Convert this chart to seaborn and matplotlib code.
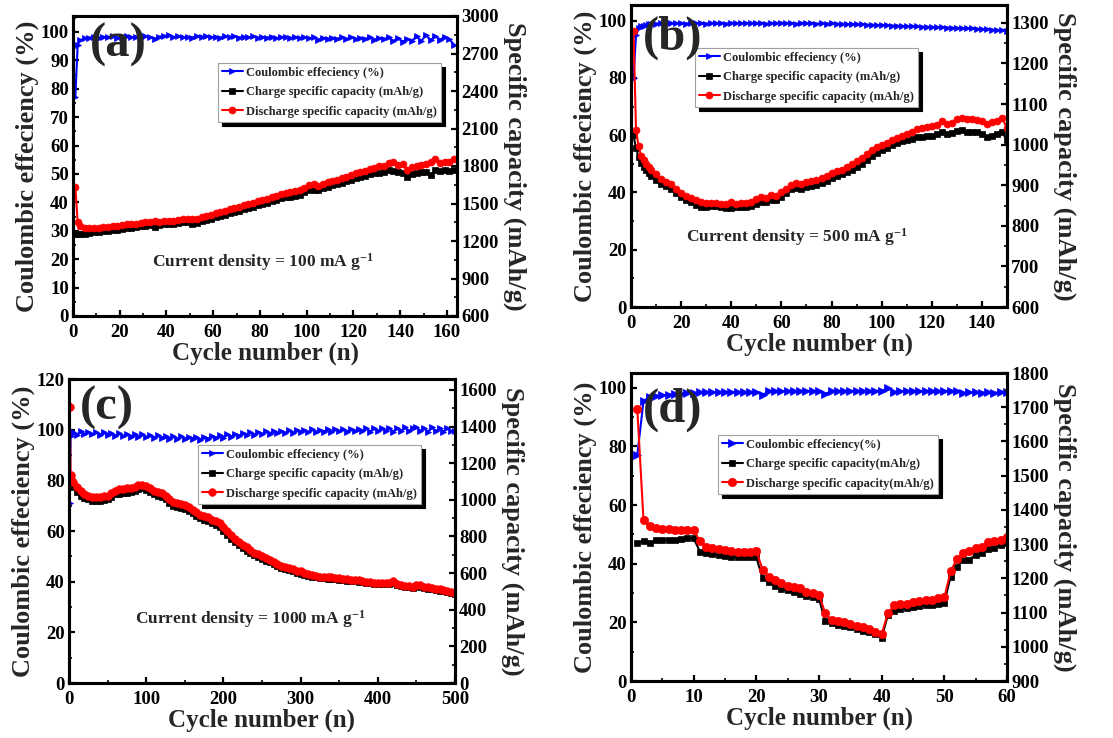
import matplotlib
matplotlib.use("Agg")
import matplotlib.pyplot as plt
from matplotlib.ticker import MultipleLocator
import seaborn as sns

# ---------------- data ----------------
# panel (a) 100 mA/g
cyc_a = [1, 2] + list(range(3, 165, 2))
ce_a = [77, 95.5,
        97, 97.8, 98, 98.2, 97.9, 98.3, 98.1, 98.4, 98, 98.2,
        98.5, 98.1, 98.3, 98, 98.4, 98.2, 97.6, 98.3, 98.6, 98.8,
        98.2, 98.4, 98.1, 98.3, 98, 98.5, 98.2, 98.4, 98.1, 98.3,
        98, 98.4, 98.2, 98.5, 98, 98.3, 98.1, 98.4, 97.9, 98.2,
        98, 98.3, 97.8, 98.1, 98.3, 97.9, 98.2, 97.8, 98.1, 97.7,
        98.2, 97.3, 97.9, 97.6, 98, 97.5, 98.2, 97.6, 98.1, 97.4,
        98, 97.5, 98.3, 97.3, 97.9, 97.5, 98.1, 96.8, 97.8, 96.5,
        97.6, 96.9, 98.4, 96.8, 98.9, 97, 98.6, 97.2, 98.3, 97.5,
        95.5]
chg_a = [1260, 1260,
         1260, 1260, 1264, 1269, 1273, 1278, 1283, 1287, 1292, 1296,
         1301, 1305, 1310, 1319, 1323, 1328, 1310, 1328, 1333, 1335,
         1339, 1346, 1351, 1355, 1337, 1346, 1360, 1371, 1380, 1389,
         1399, 1410, 1421, 1433, 1444, 1455, 1465, 1476, 1485, 1496,
         1505, 1519, 1530, 1542, 1551, 1556, 1562, 1569, 1590, 1612,
         1606, 1608, 1624, 1635, 1647, 1653, 1667, 1681, 1692, 1706,
         1715, 1724, 1733, 1742, 1744, 1749, 1767, 1760, 1751, 1747,
         1710, 1733, 1744, 1751, 1756, 1728, 1767, 1760, 1765, 1760,
         1772]
dis_a = [1635, 1351,
         1317, 1305, 1301, 1301, 1305, 1310, 1314, 1319, 1323, 1328,
         1333, 1335, 1339, 1346, 1351, 1355, 1364, 1355, 1358, 1360,
         1362, 1369, 1374, 1380, 1374, 1380, 1392, 1403, 1412, 1421,
         1430, 1442, 1453, 1465, 1476, 1487, 1496, 1508, 1517, 1528,
         1537, 1551, 1562, 1574, 1583, 1590, 1601, 1606, 1624, 1647,
         1653, 1642, 1658, 1669, 1681, 1687, 1701, 1715, 1728, 1742,
         1749, 1760, 1774, 1788, 1797, 1801, 1824, 1829, 1806, 1817,
         1767, 1794, 1799, 1806, 1815, 1829, 1856, 1824, 1833, 1829,
         1858]

# panel (b) 500 mA/g
cyc_b = [1, 2, 3, 4, 5, 6, 7, 8] + list(range(10, 151, 2))
ce_b = [80, 95, 97.3, 98, 98.3, 98.5, 98.7, 98.8,
        99, 99.1, 99, 99.2, 99.1, 99.2, 99, 99.3, 99.1, 99.2,
        99, 99.3, 99.1, 99.2, 99, 99.3, 99.1, 99.2, 99.1, 99.3,
        99.1, 99.2, 99, 99.2, 99.1, 99.3, 99.1, 99.2, 99, 99.2,
        99.1, 99.2, 99, 99.1, 99, 99.1, 98.9, 99, 98.8, 98.9,
        98.7, 98.8, 98.6, 98.6, 98.5, 98.5, 98.4, 98.3, 98.3, 98.2,
        98.1, 98.1, 98, 97.9, 97.9, 97.8, 97.7, 97.8, 97.6, 97.6,
        97.5, 97.4, 97.3, 97.3, 97.2, 97.1, 97, 96.9, 96.8, 96.6,
        96.5]
chg_b = [1023, 991, 970, 955, 945, 938, 930, 923,
         913, 904, 897, 890, 881, 870, 863, 858, 852, 847,
         847, 849, 849, 846, 844, 844, 847, 847, 847, 849,
         854, 858, 859, 863, 864, 870, 881, 890, 894, 891,
         896, 898, 901, 906, 911, 917, 923, 927, 933, 938,
         945, 953, 962, 971, 980, 986, 992, 999, 1004, 1008,
         1011, 1014, 1018, 1019, 1021, 1022, 1025, 1030, 1025, 1028,
         1034, 1035, 1032, 1032, 1030, 1026, 1019, 1021, 1026, 1030,
         1012]
dis_b = [1280, 1036, 997, 973, 962, 952, 945, 938,
         927, 916, 909, 902, 891, 881, 874, 869, 863, 858,
         856, 857, 857, 854, 853, 859, 854, 856, 855, 859,
         866, 870, 869, 876, 874, 884, 891, 900, 906, 903,
         907, 910, 913, 917, 923, 930, 934, 938, 945, 952,
         959, 966, 977, 986, 993, 999, 1005, 1012, 1016, 1022,
         1026, 1032, 1039, 1041, 1043, 1045, 1049, 1058, 1051, 1053,
         1062, 1065, 1062, 1063, 1061, 1057, 1052, 1055, 1059, 1066,
         1041]

# panel (c) 1000 mA/g
cyc_c = [1, 2, 3] + list(range(5, 501, 5))
ce_c = [71, 97.5, 98.3,
        99.2, 98.0, 99.3, 98.2, 99.1, 98.1, 99.2, 98.0, 98.9, 97.8,
        98.8, 97.6, 98.6, 97.4, 98.4, 97.3, 98.3, 97.1, 98.1, 97.0,
        97.9, 96.8, 97.8, 96.7, 97.6, 96.5, 97.5, 96.4, 97.4, 96.3,
        97.3, 96.2, 97.2, 96.1, 97.3, 96.3, 97.5, 96.6, 97.8, 96.9,
        98.1, 97.2, 98.4, 97.5, 98.7, 97.8, 98.9, 98.0, 99.1, 98.2,
        99.3, 98.4, 99.5, 98.5, 99.6, 98.7, 99.7, 98.8, 99.8, 98.9,
        99.9, 98.9, 100.1, 99.0, 100.0, 99.2, 100.2, 99.2, 100.1, 99.3,
        100.3, 99.2, 100.4, 99.3, 100.4, 99.3, 100.6, 99.2, 100.7, 99.3,
        100.6, 99.3, 100.8, 99.1, 100.7, 99.4, 100.9, 99.3, 100.8, 101.2,
        99.4, 100.8, 99.1, 100.9, 99.3, 100.7, 99.2, 100.8, 99.4, 99.5]
chg_c = [1093, 1086, 1079,
         1072, 1044, 1023, 1010, 1003, 996, 996, 996, 1000, 1003,
         1017, 1030, 1034, 1037, 1040, 1044, 1051, 1058, 1065, 1055,
         1044, 1030, 1023, 1017, 1003, 982, 968, 961, 954, 950,
         940, 927, 913, 899, 892, 885, 871, 864, 851, 830,
         809, 788, 768, 751, 737, 723, 709, 698, 689, 678,
         668, 658, 649, 639, 629, 622, 615, 609, 603, 597,
         592, 586, 581, 577, 574, 573, 570, 568, 566, 563,
         560, 559, 556, 555, 552, 549, 546, 544, 541, 539,
         538, 538, 539, 546, 535, 528, 526, 523, 520, 528,
         526, 519, 516, 513, 509, 505, 501, 496, 491, 484]
dis_c = [1507, 1134, 1113,
         1099, 1072, 1051, 1030, 1023, 1017, 1017, 1017, 1021, 1023,
         1037, 1051, 1058, 1062, 1065, 1065, 1072, 1079, 1083, 1076,
         1065, 1051, 1044, 1037, 1023, 1003, 989, 982, 975, 972,
         961, 947, 934, 920, 913, 906, 892, 885, 871, 851,
         830, 809, 788, 768, 754, 740, 726, 712, 703, 692,
         682, 671, 661, 650, 640, 633, 627, 620, 613, 609,
         602, 595, 591, 585, 581, 581, 578, 578, 574, 571,
         567, 567, 564, 564, 560, 557, 553, 550, 548, 546,
         544, 546, 548, 556, 542, 534, 531, 528, 526, 537,
         534, 526, 523, 520, 516, 512, 508, 503, 498, 490]

# panel (d) rate capability
cyc_d = list(range(1, 61))
ce_d = [77, 95.5, 96.8, 97.2, 97.4, 97.6, 97.8, 98, 98.1, 98.2,
        98.4, 98.4, 98.5, 98.5, 98.5, 98.5, 98.5, 98.5, 98.4, 98.5,
        97.5, 98.8, 98.8, 98.8, 98.8, 98.8, 98.8, 98.9, 98.8, 98.7,
        97.9, 98.8, 98.8, 98.8, 98.9, 98.9, 98.9, 98.9, 98.9, 98.9,
        99.8, 98.6, 98.7, 98.7, 98.7, 98.7, 98.7, 98.7, 98.8, 98.8,
        99, 98.7, 98.2, 98.4, 98.4, 98.3, 98.4, 98.3, 98.4, 98.4]
chg_d = [1303, 1308, 1303, 1311, 1313, 1311, 1313, 1314, 1317, 1317,
         1278, 1273, 1270, 1267, 1265, 1261, 1261, 1261, 1261, 1261,
         1200, 1189, 1179, 1169, 1165, 1161, 1155, 1148, 1144, 1140,
         1074, 1069, 1064, 1062, 1058, 1052, 1047, 1042, 1037, 1027,
         1093, 1106, 1110, 1113, 1115, 1120, 1121, 1122, 1126, 1129,
         1205, 1234, 1254, 1255, 1269, 1273, 1285, 1290, 1298, 1303]
dis_d = [1695, 1369, 1352, 1347, 1345, 1343, 1341, 1340, 1340, 1342,
         1308, 1293, 1288, 1285, 1283, 1280, 1278, 1278, 1278, 1280,
         1225, 1205, 1195, 1186, 1179, 1176, 1171, 1161, 1156, 1152,
         1098, 1078, 1075, 1072, 1068, 1062, 1058, 1052, 1044, 1037,
         1098, 1122, 1125, 1126, 1130, 1134, 1136, 1137, 1142, 1144,
         1220, 1257, 1273, 1281, 1288, 1293, 1306, 1310, 1312, 1321]

labels_1 = ["Coulombic effeciency (%)", "Charge specific capacity (mAh/g)",
            "Discharge specific capacity (mAh/g)"]
labels_2 = ["Coulombic effeciency(%)", "Charge specific capacity(mAh/g)",
            "Discharge specific capacity(mAh/g)"]

# ---------------- style ----------------
sns.set_style("ticks")
plt.rcParams["font.family"] = ["Liberation Serif", "DejaVu Serif"]
plt.rcParams["font.weight"] = "bold"
plt.rcParams["axes.labelweight"] = "bold"
plt.rcParams["mathtext.fontset"] = "custom"
plt.rcParams["mathtext.rm"] = "Liberation Serif:bold"
plt.rcParams["mathtext.it"] = "Liberation Serif:bold"
plt.rcParams["mathtext.bf"] = "Liberation Serif:bold"

W, H = 1113, 738
fig = plt.figure(figsize=(W / 100, H / 100), dpi=100)

BLUE = "#0000ff"
RED = "#ff0000"
BLACK = "#000000"


def px_rect(x0, y0, x1, y1):
    return [x0 / W, 1 - y1 / H, (x1 - x0) / W, (y1 - y0) / H]


def panel(rect, cyc, ce, chg, dis, xlim, ylim_l, ylim_r, xt, lt, rt, ms,
          leg_xy, labels, letter, letter_xy, cd_text=None, cd_xy=None):
    ax = fig.add_axes(px_rect(*rect))
    ax2 = ax.twinx()
    sns.lineplot(x=cyc, y=ce, ax=ax, color=BLUE, marker=">", markersize=ms[0],
                 mec=BLUE, mfc=BLUE, mew=0.5, lw=1.5, estimator=None, sort=False)
    sns.lineplot(x=cyc, y=chg, ax=ax2, color=BLACK, marker="s", markersize=ms[1],
                 mec=BLACK, mfc=BLACK, mew=0.5, lw=1.5, estimator=None, sort=False)
    sns.lineplot(x=cyc, y=dis, ax=ax2, color=RED, marker="o", markersize=ms[2],
                 mec=RED, mfc=RED, mew=0.5, lw=1.5, estimator=None, sort=False)
    ax.set_xlim(*xlim)
    ax.set_ylim(*ylim_l)
    ax2.set_ylim(*ylim_r)
    ax.xaxis.set_major_locator(MultipleLocator(xt))
    ax.xaxis.set_minor_locator(MultipleLocator(xt / 2))
    ax.yaxis.set_major_locator(MultipleLocator(lt))
    ax.yaxis.set_minor_locator(MultipleLocator(lt / 2))
    ax2.yaxis.set_major_locator(MultipleLocator(rt))
    ax2.yaxis.set_minor_locator(MultipleLocator(rt / 2))
    for a in (ax, ax2):
        for s in a.spines.values():
            s.set_linewidth(2.2)
            s.set_color("black")
            s.set_visible(True)
        a.tick_params(which="major", direction="in", length=4.5, width=1.6,
                      labelsize=13.5, pad=3, colors="black")
        a.tick_params(which="minor", direction="in", length=2.5, width=1.4)
    ax.tick_params(axis="x", which="major", pad=6)
    ax.tick_params(axis="y", which="both", left=True, right=False)
    ax.tick_params(axis="x", which="both", bottom=True, top=False)
    ax2.tick_params(axis="y", which="both", right=True, left=False)
    ax.set_xlabel("Cycle number (n)", fontsize=18, labelpad=0)
    ax.set_ylabel("Coulombic effeciency (%)", fontsize=19, labelpad=1)
    ax2.set_ylabel("Specific capacity (mAh/g)", fontsize=19, rotation=270,
                   labelpad=20)
    for a in (ax, ax2):
        lg = a.get_legend()
        if lg is not None:
            lg.remove()
    handles = ax.get_lines()[:1] + ax2.get_lines()[:2]
    leg = ax2.legend(handles, labels, loc="upper left",
                     bbox_to_anchor=(leg_xy[0] / W, 1 - leg_xy[1] / H),
                     bbox_transform=fig.transFigure, fontsize=9,
                     frameon=True, fancybox=False, edgecolor="#a0a0a0",
                     framealpha=1, borderpad=0.3, labelspacing=0.6,
                     handlelength=1.7, handletextpad=0.25, borderaxespad=0,
                     shadow={"ox": 3, "oy": -3, "color": "black", "alpha": 1})
    leg.get_frame().set_linewidth(0.8)
    fig.text(letter_xy[0] / W, 1 - letter_xy[1] / H, letter, fontsize=35,
             fontweight="bold", ha="center", va="center")
    if cd_text is not None:
        fig.text(cd_xy[0] / W, 1 - cd_xy[1] / H, cd_text, fontsize=12.5,
                 fontweight="bold", ha="center", va="baseline")
    return ax, ax2


panel((73, 16, 457, 316), cyc_a, ce_a, chg_a, dis_a, (0, 164.3), (0, 105.6),
      (600, 3000), 20, 10, 300, (4, 4.5, 5), (218, 63), labels_1, "(a)",
      (118, 45), "Current density = 100 mA g$^{-1}$", (263, 267))

panel((631, 5, 1007, 307), cyc_b, ce_b, chg_b, dis_b, (0, 150), (0, 105.5),
      (600, 1344), 20, 20, 100, (4, 4.5, 5), (695, 48), labels_1, "(b)",
      (673, 38), "Current density = 500 mA g$^{-1}$", (797, 242))

panel((69, 379, 455, 683), cyc_c, ce_c, chg_c, dis_c, (0, 500), (0, 120),
      (0, 1660), 100, 20, 200, (4, 4.5, 5.5), (198, 445), labels_1, "(c)",
      (107, 408), "Current density = 1000 mA g$^{-1}$", (250, 624))

panel((631, 373, 1007, 681), cyc_d, ce_d, chg_d, dis_d, (0, 60), (0, 105),
      (900, 1800), 10, 20, 100, (5.5, 5, 6), (718, 435), labels_2, "(d)",
      (673, 410))

fig.savefig("out.png", dpi=100)
